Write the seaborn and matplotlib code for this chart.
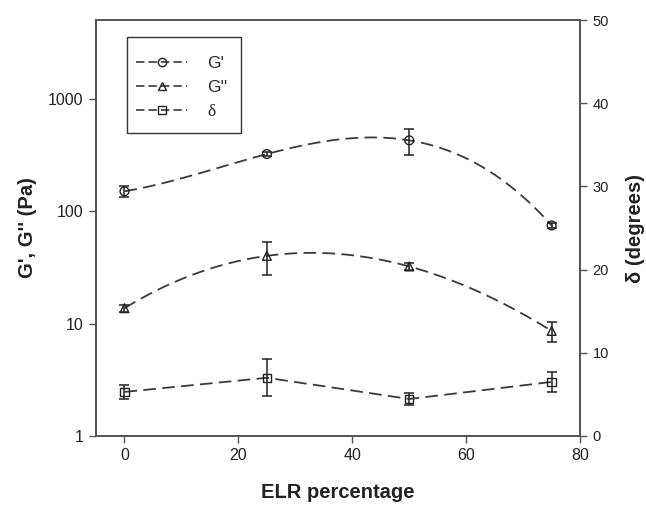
import numpy as np
import pandas as pd
import seaborn as sns
import matplotlib
matplotlib.use("Agg")
import matplotlib.pyplot as plt
from matplotlib.lines import Line2D
from matplotlib.patches import Rectangle

# ---- data ----
elr = [0, 25, 50, 75]
g_prime = [150, 322, 426, 74.6]
g_prime_err = [16, 12, 112, 4]
g_dprime = [13.7, 40, 32.2, 8.6]
g_dprime_err = [1.0, 13, 2.5, 1.7]
delta = [5.3, 7.0, 4.45, 6.5]
delta_err = [0.85, 2.2, 0.7, 1.25]

sns.set_theme(style="white")
plt.rcParams['font.family'] = ['Liberation Sans', 'DejaVu Sans']

fig = plt.figure(figsize=(6.46, 5.15), dpi=100)
ax = fig.add_axes([0.1486, 0.1534, 0.7494, 0.8076])
ax2 = ax.twinx()

line_col = "#3a3a3a"
spine_col = "#555555"
dash = (7, 3.5)

# smooth (cubic, log-space) curves through the G' / G'' points
xs = np.linspace(min(elr), max(elr), 200)
def smooth(vals):
    c = np.polyfit(elr, np.log10(vals), 3)
    return 10 ** np.polyval(c, xs)

for vals in (g_prime, g_dprime):
    df = pd.DataFrame({"x": xs, "y": smooth(vals)})
    sns.lineplot(data=df, x="x", y="y", ax=ax, color=line_col, lw=1.3, legend=False)
    ax.lines[-1].set_dashes(dash)

df_d = pd.DataFrame({"x": elr, "y": delta})
sns.lineplot(data=df_d, x="x", y="y", ax=ax2, color=line_col, lw=1.3, legend=False)
ax2.lines[-1].set_dashes(dash)

eb_kw = dict(fmt="none", ecolor="#222222", elinewidth=1.1, capsize=3.7, capthick=1.1, zorder=4)
ax.errorbar(elr, g_prime, yerr=g_prime_err, **eb_kw)
ax.errorbar(elr, g_dprime, yerr=g_dprime_err, **eb_kw)
ax2.errorbar(elr, delta, yerr=delta_err, **eb_kw)

mk_kw = dict(facecolor="none", edgecolor="#222222", linewidth=1.0, zorder=5, legend=False)
sns.scatterplot(x=elr, y=g_prime, ax=ax, marker="o", s=40, **mk_kw)
sns.scatterplot(x=elr, y=g_dprime, ax=ax, marker="^", s=40, **mk_kw)
sns.scatterplot(x=elr, y=delta, ax=ax2, marker="s", s=36, **mk_kw)

ax.set_yscale("log")
ax.set_ylim(1, 5000)
ax.set_xlim(-5, 80)
ax2.set_ylim(0, 50)
ax.set_yticks([1, 10, 100, 1000])
ax.set_yticklabels(["1", "10", "100", "1000"])
ax.yaxis.set_minor_locator(matplotlib.ticker.NullLocator())
ax.set_xticks([0, 20, 40, 60, 80])
ax2.set_yticks([0, 10, 20, 30, 40, 50])

for a in (ax, ax2):
    for s in a.spines.values():
        s.set_color(spine_col)
        s.set_linewidth(1.3)
        s.set_visible(True)
    a.tick_params(length=5, width=1.0, color=spine_col, labelsize=11.5, labelcolor="#222222", pad=4)
    a.grid(False)
ax.tick_params(axis="both", direction="out", left=True, bottom=True)
ax2.tick_params(axis="y", direction="out", right=True, labelsize=10.5)

ax.set_xlabel("ELR percentage", fontsize=14.5, fontweight="bold", labelpad=14, color="#222222")
ax.set_ylabel("G', G'' (Pa)", fontsize=14.5, fontweight="bold", labelpad=8, color="#222222")
ax2.set_ylabel("δ (degrees)", fontsize=14.5, fontweight="bold", labelpad=12, color="#222222")

# legend frame drawn separately (SigmaPlot-like proportions)
ax2.add_patch(Rectangle((0.064, 0.728), 0.2356, 0.231, transform=ax2.transAxes,
                        facecolor="white", edgecolor="#333333", lw=1.0, zorder=10))
hk = dict(color=line_col, lw=1.2, dashes=(5, 2.5), mfc="none", mec="#222222", mew=1.0)
handles = [
    Line2D([0], [0], marker="o", ms=6, **hk),
    Line2D([0], [0], marker="^", ms=6, **hk),
    Line2D([0], [0], marker="s", ms=5.5, **hk),
]
leg = ax2.legend(handles, ["G'", "G''", "δ"], loc="upper left", bbox_to_anchor=(0.0826, 0.914),
                 borderaxespad=0, borderpad=0, fontsize=12.5, frameon=False,
                 handlelength=2.94, labelspacing=0.5, handletextpad=1.15)
leg.set_zorder(11)
leg.get_texts()[2].set_family(["Liberation Serif", "DejaVu Serif"])

fig.savefig("out.png", dpi=100)
